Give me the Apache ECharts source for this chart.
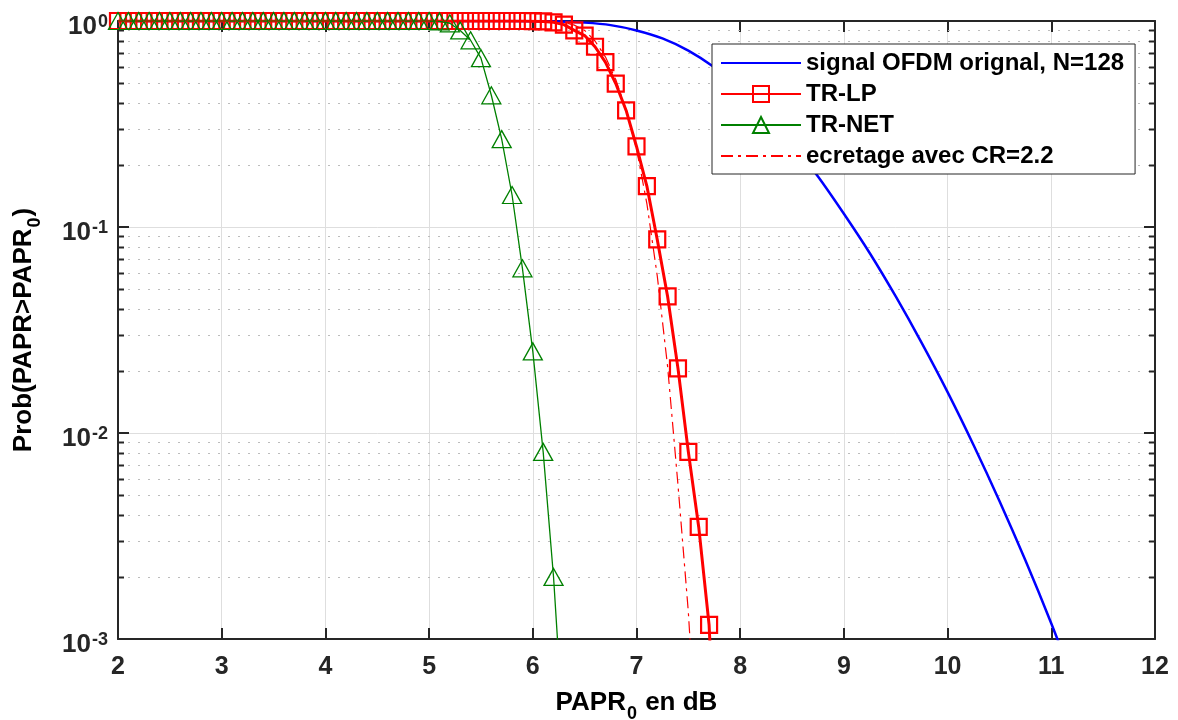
<!DOCTYPE html>
<html>
<head>
<meta charset="utf-8">
<script src="https://cdn.jsdelivr.net/npm/echarts@6.0.0/dist/echarts.min.js"></script>
<style>
  html, body { margin: 0; padding: 0; background: #fff; }
  #chart { width: 1178px; height: 720px; }
</style>
</head>
<body>
<div id="chart"></div>
<script>
const FONT = '"Liberation Sans", Arial, Helvetica, sans-serif'
const AXIS_COLOR = '#262626'

// PAPR0 grid (dB) shared by the simulated curves
const paprX = [
  2.0, 2.1, 2.2, 2.3, 2.4, 2.5, 2.6, 2.7, 2.8, 2.9,
  3.0, 3.1, 3.2, 3.3, 3.4, 3.5, 3.6, 3.7, 3.8, 3.9,
  4.0, 4.1, 4.2, 4.3, 4.4, 4.5, 4.6, 4.7, 4.8, 4.9,
  5.0, 5.1, 5.2, 5.3, 5.4, 5.5, 5.6, 5.7, 5.8, 5.9,
  6.0, 6.1, 6.2, 6.3, 6.4, 6.5, 6.6, 6.7, 6.8, 6.9,
  7.0, 7.1, 7.2, 7.3, 7.4, 7.5, 7.6, 7.7, 7.8
]

// TR-LP (red squares)
const trLp = [
  1, 1, 1, 1, 1, 1, 1, 1, 1, 1,
  1, 1, 1, 1, 1, 1, 1, 1, 1, 1,
  1, 1, 1, 1, 1, 1, 1, 1, 1, 1,
  1, 1, 1, 1, 1, 1, 1, 1, 1, 1,
  0.998, 0.995, 0.985, 0.96, 0.9, 0.85, 0.75, 0.632, 0.497, 0.368,
  0.246, 0.158, 0.087, 0.046, 0.0206, 0.0081, 0.0035, 0.00117, 0.0001
]

// TR-NET (green triangles)
const trNet = [
  1, 1, 1, 1, 1, 1, 1, 1, 1, 1,
  1, 1, 1, 1, 1, 1, 1, 1, 1, 1,
  1, 1, 1, 1, 1, 1, 1, 1, 1, 1,
  1, 0.995, 0.975, 0.9, 0.806, 0.66, 0.436, 0.267, 0.143, 0.063,
  0.0249, 0.0081, 0.002, 0.00032
]

// ecretage avec CR=2.2 (red dash-dot)
const clipCr = [
  1, 1, 1, 1, 1, 1, 1, 1, 1, 1,
  1, 1, 1, 1, 1, 1, 1, 1, 1, 1,
  1, 1, 1, 1, 1, 1, 1, 1, 1, 1,
  1, 1, 1, 1, 1, 1, 1, 1, 1, 1,
  1, 1, 0.995, 0.985, 0.955, 0.9, 0.8, 0.67, 0.52, 0.37,
  0.24, 0.13, 0.058, 0.021, 0.0056, 0.00135, 0.0002
]

// original OFDM signal, N=128 (blue)
const ofdmX = [2, 2.5, 3, 3.5, 4, 4.5, 5, 5.5, 6, 6.25, 6.5, 6.75, 7, 7.25, 7.5, 7.75,
  8, 8.25, 8.5, 8.75, 9, 9.25, 9.5, 9.75, 10, 10.25, 10.5, 10.75, 11, 11.25, 11.5]
const ofdmY = [1, 1, 1, 1, 1, 1, 1, 1, 0.9986, 0.9945, 0.982, 0.955, 0.9, 0.823, 0.718, 0.596,
  0.471, 0.355, 0.255, 0.176, 0.116, 0.0746, 0.046, 0.0274, 0.0158, 0.00875, 0.00468, 0.00241, 0.00119, 0.00056, 0.00026]

const seriesNames = ['signal OFDM orignal, N=128', 'TR-LP', 'TR-NET', 'ecretage avec CR=2.2']
const xRange = [2, 12]
const yRange = [0.001, 1]
const yMinorTicks = [
  0.002, 0.003, 0.004, 0.005, 0.006, 0.007, 0.008, 0.009,
  0.02, 0.03, 0.04, 0.05, 0.06, 0.07, 0.08, 0.09,
  0.2, 0.3, 0.4, 0.5, 0.6, 0.7, 0.8, 0.9
]

const pairs = (xs, ys) => ys.map((y, i) => [xs[i], y])

const chart = echarts.init(document.getElementById('chart'))

const tickLabelRich = {
  b: { fontSize: 26, fontWeight: 'bold', fontFamily: FONT, color: AXIS_COLOR, lineHeight: 26, padding: [11, 0, 0, 0] },
  s: { fontSize: 18, fontWeight: 'bold', fontFamily: FONT, color: AXIS_COLOR, lineHeight: 18, verticalAlign: 'top', padding: [5, 0, 0, 1] }
}
const nameRich = {
  a: { fontSize: 26, fontWeight: 'bold', fontFamily: FONT, color: '#000', lineHeight: 26, verticalAlign: 'top' },
  s: { fontSize: 18, fontWeight: 'bold', fontFamily: FONT, color: '#000', lineHeight: 18, verticalAlign: 'top', padding: [15, 1, 0, 1] }
}

const option = {
  animation: false,
  backgroundColor: '#fff',
  grid: { left: 118, right: 23, top: 21, bottom: 81, containLabel: false, outerBoundsMode: 'none' },
  legend: {
    orient: 'vertical',
    left: 712,
    top: 44,
    padding: [7, 11, 6, 8],
    itemGap: 7,
    itemWidth: 80,
    itemHeight: 20,
    backgroundColor: '#fff',
    borderColor: AXIS_COLOR,
    borderWidth: 1,
    borderRadius: 0,
    textStyle: { fontSize: 24, fontWeight: 'bold', color: '#000', fontFamily: FONT },
    data: seriesNames
  },
  xAxis: [
    {
      type: 'value',
      min: xRange[0],
      max: xRange[1],
      interval: 1,
      name: '{a|PAPR}{s|0}{a| en dB}',
      nameLocation: 'middle',
      nameGap: 51,
      nameTextStyle: { rich: nameRich },
      axisLine: { onZero: false, lineStyle: { color: AXIS_COLOR, width: 2 } },
      axisTick: { inside: true, length: 11, lineStyle: { color: AXIS_COLOR, width: 2 } },
      axisLabel: { margin: 16, fontSize: 25, fontWeight: 'bold', color: AXIS_COLOR, fontFamily: FONT },
      splitLine: { show: true, lineStyle: { color: '#dedede', width: 1 } }
    },
    {
      type: 'value',
      position: 'top',
      min: xRange[0],
      max: xRange[1],
      interval: 1,
      axisLine: { onZero: false, lineStyle: { color: AXIS_COLOR, width: 2 } },
      axisTick: { inside: true, length: 11, lineStyle: { color: AXIS_COLOR, width: 2 } },
      axisLabel: { show: false },
      splitLine: { show: false }
    }
  ],
  yAxis: [
    {
      type: 'log',
      logBase: 10,
      min: yRange[0],
      max: yRange[1],
      name: '{a|Prob(PAPR>PAPR}{s|0}{a|)}',
      nameLocation: 'middle',
      nameRotate: 90,
      nameGap: 81,
      nameTextStyle: { rich: nameRich },
      axisLine: { onZero: false, lineStyle: { color: AXIS_COLOR, width: 2 } },
      axisTick: { inside: true, length: 11, lineStyle: { color: AXIS_COLOR, width: 2 } },
      axisLabel: {
        margin: 10,
        formatter: v => '{b|10}{s|' + Math.round(Math.log10(v)) + '}',
        rich: tickLabelRich
      },
      splitLine: { show: true, lineStyle: { color: '#dedede', width: 1 } }
    },
    {
      type: 'log',
      logBase: 10,
      position: 'right',
      min: yRange[0],
      max: yRange[1],
      axisLine: { onZero: false, lineStyle: { color: AXIS_COLOR, width: 2 } },
      axisTick: { inside: true, length: 11, lineStyle: { color: AXIS_COLOR, width: 2 } },
      axisLabel: { show: false },
      splitLine: { show: false }
    }
  ],
  series: [
    {
      // minor log grid: dotted lines plus small ticks on both y axes
      type: 'custom',
      silent: true,
      z: 1,
      data: yMinorTicks.map(v => [xRange[0], v]),
      renderItem: (params, api) => {
        const v = api.value(1)
        const p0 = api.coord([xRange[0], v])
        const p1 = api.coord([xRange[1], v])
        const y = Math.round(p0[1]) + 0.5
        return {
          type: 'group',
          children: [
            { type: 'line', shape: { x1: p0[0], y1: y, x2: p1[0], y2: y }, style: { stroke: '#bcbcbc', lineWidth: 1, lineDash: [2, 8] } },
            { type: 'line', shape: { x1: p0[0], y1: y, x2: p0[0] + 6, y2: y }, style: { stroke: AXIS_COLOR, lineWidth: 2 } },
            { type: 'line', shape: { x1: p1[0] - 6, y1: y, x2: p1[0], y2: y }, style: { stroke: AXIS_COLOR, lineWidth: 2 } }
          ]
        }
      }
    },
    {
      name: seriesNames[0],
      type: 'line',
      data: pairs(ofdmX, ofdmY),
      symbol: 'none',
      smooth: 0.3,
      clip: true,
      z: 3,
      lineStyle: { color: '#0000ff', width: 2.5 },
      itemStyle: { color: 'rgba(0,0,0,0)', borderWidth: 0 }
    },
    {
      name: seriesNames[1],
      type: 'line',
      data: pairs(paprX, trLp),
      symbol: 'rect',
      symbolSize: 16,
      showAllSymbol: true,
      clip: true,
      z: 4,
      lineStyle: { color: '#ff0000', width: 3 },
      itemStyle: { color: 'rgba(255,255,255,0)', borderColor: '#ff0000', borderWidth: 2.2 }
    },
    {
      name: seriesNames[2],
      type: 'line',
      data: pairs(paprX, trNet),
      symbol: 'triangle',
      symbolSize: [19, 17],
      showAllSymbol: true,
      clip: true,
      z: 5,
      lineStyle: { color: '#008000', width: 1.3 },
      itemStyle: { color: 'rgba(255,255,255,0)', borderColor: '#008000', borderWidth: 1.3 }
    },
    {
      name: seriesNames[3],
      type: 'line',
      data: pairs(paprX, clipCr),
      symbol: 'none',
      clip: true,
      z: 6,
      lineStyle: { color: '#ff0000', width: 1.2, type: [12, 5, 3, 5] },
      itemStyle: { color: 'rgba(0,0,0,0)', borderWidth: 0 }
    }
  ]
}

chart.setOption(option)
</script>
</body>
</html>
